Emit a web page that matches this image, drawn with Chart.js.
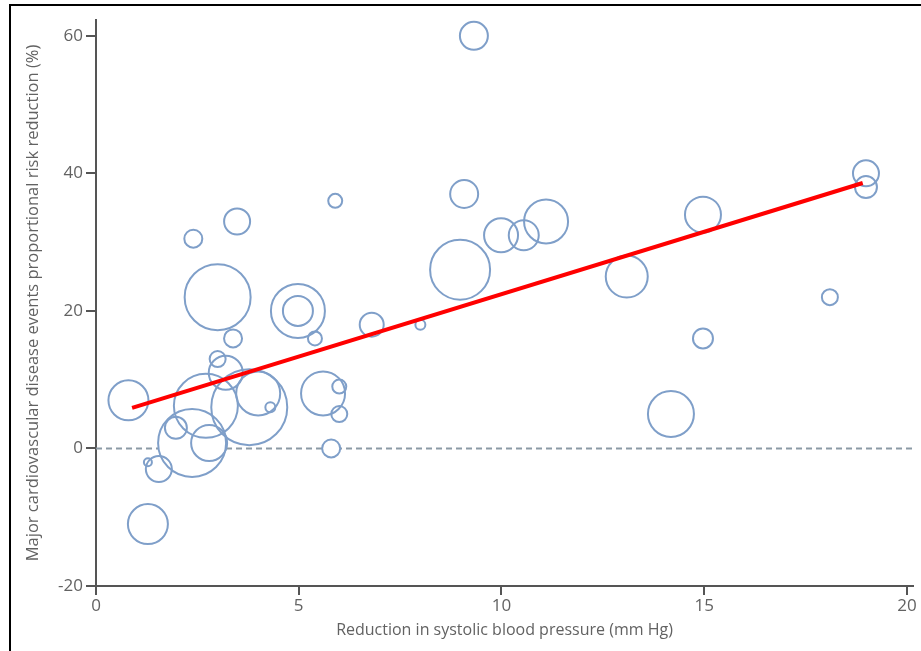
<!DOCTYPE html>
<html>
<head>
<meta charset="utf-8">
<script src="https://cdn.jsdelivr.net/npm/chart.js@4/dist/chart.umd.min.js"></script>
<style>
  html, body { margin: 0; padding: 0; background: #fff; }
  #wrap { position: relative; width: 921px; height: 651px; overflow: hidden; }
  #frame { position: absolute; left: 9px; top: 4px; width: 940px; height: 700px;
           border-left: 2px solid #000; border-top: 2px solid #000; }
  #bpChart { position: absolute; left: 0; top: 0; }
</style>
</head>
<body>
<div id="wrap">
  <div id="frame"></div>
  <canvas id="bpChart" width="921" height="651"></canvas>
</div>
<script>
// Trials: reduction in SBP (mm Hg), risk reduction (%), bubble size
const studyX = [9.32, 5.9, 3.48, 2.4, 3.0, 4.98, 4.98, 9.08, 8.98, 9.99,
                10.55, 11.1, 13.09, 14.97, 18.99, 18.99, 18.1, 14.97, 14.18, 6.8,
                8.0, 5.4, 3.38, 3.0, 3.2, 0.8, 2.71, 3.78, 4.0, 4.3,
                5.6, 6.0, 6.0, 5.8, 2.37, 1.97, 2.79, 1.55, 1.28, 1.28];
const studyY = [60, 36, 33, 30.5, 22, 20, 20, 37, 26, 31,
                31, 33, 25, 34, 40, 38, 22, 16, 5, 18,
                18, 16, 16, 13, 11, 7, 6.2, 6, 8, 6,
                8, 9, 5, 0, 0.8, 3, 0.8, -3, -2, -11];
const studySize = [14, 7, 13, 9, 33, 27, 15, 14, 30, 17,
                   15, 22, 21, 18, 13, 11, 8, 10, 23, 12,
                   5, 7, 9, 8, 17, 20, 32, 38, 22, 5,
                   22, 7, 8, 9, 34, 11, 18, 13, 4, 20];

// Fitted regression line end points
const fitX = [0.89, 18.91];
const fitY = [5.9, 38.6];

const xTicks = [0, 5, 10, 15, 20];
const yTicks = [-20, 0, 20, 40, 60];
const xMin = 0, xMax = 20.15;
const yMin = -20, yMax = 62.3;

const axisColor = '#555555';
const textColor = '#626262';
const bubbleColor = '#7f9fc9';

document.addEventListener('DOMContentLoaded', function() {
    const ctx = document.getElementById('bpChart');

    const bubbles = studyX.map((x, i) => ({ x: x, y: studyY[i], r: studySize[i] }));
    const fitLine = fitX.map((x, i) => ({ x: x, y: fitY[i] }));
    const zeroLine = [{ x: xMin, y: 0 }, { x: xMax, y: 0 }];

    new Chart(ctx, {
        type: 'bubble',
        data: {
            datasets: [
                {
                    type: 'line',
                    data: fitLine,
                    borderColor: '#ff0000',
                    borderWidth: 4,
                    pointRadius: 0,
                    fill: false,
                    order: 0
                },
                {
                    data: bubbles,
                    backgroundColor: 'rgba(0,0,0,0)',
                    borderColor: bubbleColor,
                    borderWidth: 2,
                    order: 1
                },
                {
                    // white fills hide the dashed line inside the circles
                    data: bubbles,
                    backgroundColor: '#ffffff',
                    borderWidth: 0,
                    order: 2
                },
                {
                    type: 'line',
                    data: zeroLine,
                    borderColor: '#8b9aa5',
                    borderWidth: 2,
                    borderDash: [6, 4],
                    pointRadius: 0,
                    fill: false,
                    order: 3
                }
            ]
        },
        options: {
            responsive: false,
            animation: false,
            events: [],
            layout: {
                autoPadding: false,
                padding: { left: 10, right: 8, top: 20, bottom: 0 }
            },
            scales: {
                x: {
                    type: 'linear',
                    min: xMin,
                    max: xMax,
                    afterBuildTicks: scale => { scale.ticks = xTicks.map(v => ({ value: v })); },
                    afterFit: scale => { scale.height = 65; },
                    grid: { drawOnChartArea: false, drawTicks: true, tickLength: 9, color: axisColor, lineWidth: 2 },
                    border: { display: true, color: axisColor, width: 2 },
                    ticks: {
                        color: textColor,
                        padding: 1,
                        maxRotation: 0,
                        font: { family: 'Open Sans', size: 17 }
                    },
                    title: {
                        display: true,
                        text: 'Reduction in systolic blood pressure (mm Hg)',
                        color: textColor,
                        font: { family: 'Open Sans', size: 16 },
                        padding: { top: 0, bottom: 11 }
                    }
                },
                y: {
                    type: 'linear',
                    min: yMin,
                    max: yMax,
                    afterBuildTicks: scale => { scale.ticks = yTicks.map(v => ({ value: v })); },
                    afterFit: scale => { scale.width = 86; },
                    grid: { drawOnChartArea: false, drawTicks: true, tickLength: 10, color: axisColor, lineWidth: 2 },
                    border: { display: true, color: axisColor, width: 2 },
                    ticks: {
                        color: textColor,
                        padding: 3,
                        font: { family: 'Open Sans', size: 17 }
                    },
                    title: {
                        display: true,
                        text: 'Major cardiovascular disease events proportional risk reduction (%)',
                        color: textColor,
                        font: { family: 'Open Sans', size: 16.5 },
                        padding: { top: 13, bottom: 0 }
                    }
                }
            },
            plugins: {
                legend: { display: false },
                tooltip: { enabled: false }
            }
        }
    });
});
</script>
</body>
</html>
